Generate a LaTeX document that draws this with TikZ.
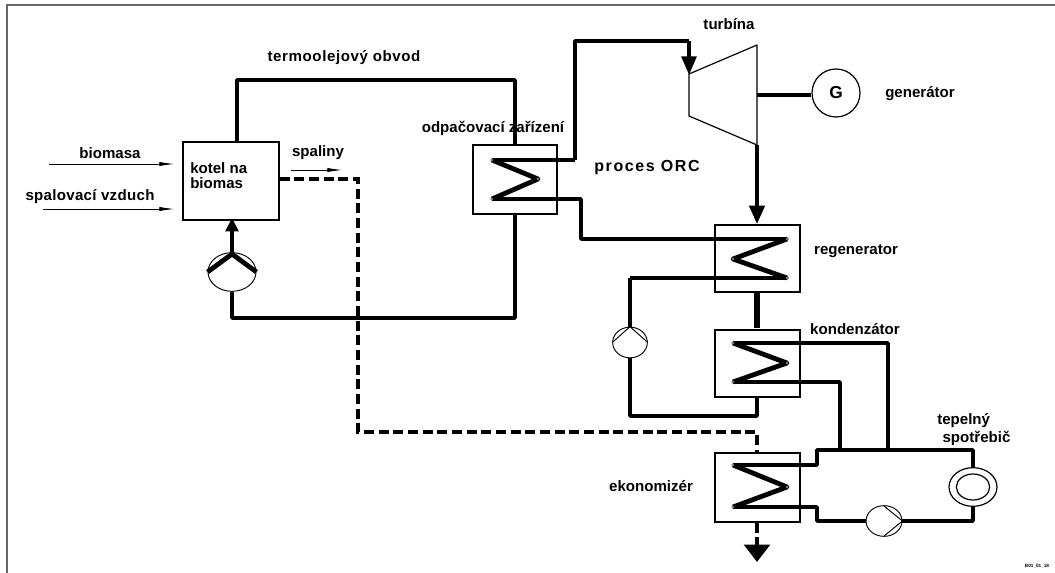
\documentclass[tikz,border=0pt]{standalone}
\usepackage{fontspec}
\setmainfont{Liberation Sans}
\usetikzlibrary{arrows.meta,shapes.geometric}

\tikzset{
  box/.style={draw,line width=0.9pt,fill=none,inner sep=0pt},
  pipe/.style={line width=2.8pt,line join=round},
  coil/.style={line width=3.6pt,line join=round},
  fluegas/.style={line width=3pt,dash pattern=on 7.5pt off 3.5pt},
  feed/.style={line width=0.6pt,-{Latex[length=11pt,width=3.2pt]}},
  thin part/.style={line width=0.7pt},
  lbl/.style={font=\bfseries\fontsize{11.3}{12.5}\selectfont,inner sep=0pt,align=left},
}

\begin{document}
\begin{tikzpicture}[x=0.75pt,y=-0.75pt]
        \useasboundingbox (0,0) rectangle (1055,573);
        \fill[white] (0,0) rectangle (1055,573);
        \draw[gray!80!black,line width=0.9pt] (7,573)--(7,5)--(1055,5);
        % boxes
        \node[box,minimum width=72pt,minimum height=58.5pt] (kotel) at (231,181) {};
        \node[box,minimum width=63pt,minimum height=51.75pt] (odpar) at (515,179.5) {};
        \node[box,minimum width=63.75pt,minimum height=50.25pt] (regen) at (757.5,258.5) {};
        \node[box,minimum width=63.75pt,minimum height=50.25pt] (konden) at (757.5,363.5) {};
        \node[box,minimum width=63.75pt,minimum height=51.75pt] (ekon) at (757.5,487.5) {};
        % pump at boiler
        \node[draw,thin part,ellipse,minimum width=36pt,minimum height=29pt,inner sep=0pt] (cerp1) at (232,272) {};
        \coordinate (c1top) at (232,254);
        \coordinate (c1end) at (232,218);
        \draw[coil] (cerp1.west)--(c1top)--(cerp1.east);
        \draw[coil,-{Triangle[length=10pt,width=9.5pt]}] (c1top)--(c1end);
        % thermal oil loop
        \coordinate (ol1) at (237,80);
        \coordinate (ol2) at (515,80);
        \coordinate (ol3) at (232,318);
        \coordinate (ol4) at (515,318);
        \draw[pipe] (kotel.north -| ol1)--(ol1)--(ol2)--(odpar.north -| ol2);
        \draw[pipe] (cerp1.south)--(ol3)--(ol4)--(odpar.south -| ol4);
        % evaporator coil and ORC
        \coordinate (o1) at (492,160);
        \coordinate (o2) at (538,179);
        \coordinate (o3) at (492,199);
        \coordinate (t1) at (575,160);
        \coordinate (t2) at (575,41);
        \coordinate (t3) at (689,41);
        \coordinate (t4) at (689,75);
        \draw[pipe] (t1)--(o1);
        \draw[coil] (o1)--(o2)--(o3);
        \draw[pipe] (o3)--(581,199)--(581,239)--(787,239);
        \draw[pipe] (t1)--(t2)--(t3);
        \draw[pipe,-{Triangle[length=14pt,width=11pt]}] (t3)--(t4);
        % turbine and generator
        \coordinate (tu1) at (689,74);
        \coordinate (tu2) at (757,45);
        \coordinate (tu3) at (757,145);
        \coordinate (tu4) at (689,116);
        \draw[line width=0.9pt,line join=round] (tu1)--(tu2)--(tu3)--(tu4)--cycle;
        \node[draw,line width=0.9pt,circle,minimum size=36pt,inner sep=0pt,font=\bfseries\fontsize{13}{14}\selectfont] (gen) at (836,93) {G};
        \coordinate (hridel) at (757,95);
        \draw[pipe] (hridel)--(hridel -| gen.west);
        \draw[coil,-{Triangle[length=14pt,width=11pt]}] (tu3)--(regen.north -| tu3);
        % regenerator
        \coordinate (r1) at (787,239);
        \coordinate (r2) at (733,259);
        \coordinate (r3) at (787,278);
        \coordinate (r4) at (630,278);
        \draw[coil] (r1)--(r2)--(r3);
        \draw[pipe] (r3)--(r4);
        \node[draw,thin part,ellipse,minimum width=26pt,minimum height=23pt,inner sep=0pt] (cerp2) at (630,342.5) {};
        \draw[thin part] (cerp2.west)--(cerp2.north)--(cerp2.east);
        \draw[pipe] (r4)--(cerp2.north);
        \coordinate (k5) at (630,416);
        \coordinate (k6) at (757,416);
        \draw[pipe] (cerp2.south)--(k5)--(k6)--(konden.south -| k6);
        \coordinate (k0) at (757,328);
        \draw[line width=4pt] (regen.south -| k0)--(k0);
        % condenser
        \coordinate (k1) at (733,343);
        \coordinate (k2) at (787,363);
        \coordinate (k3) at (733,382);
        \coordinate (k7) at (888,343);
        \coordinate (k8) at (840,382);
        \coordinate (s1) at (888,450);
        \coordinate (s2) at (840,450);
        \draw[pipe] (s1)--(k7)--(k1);
        \draw[coil] (k1)--(k2)--(k3);
        \draw[pipe] (k3)--(k8)--(s2);
        % economizer and consumer
        \coordinate (e1) at (733,465);
        \coordinate (e2) at (787,487);
        \coordinate (e3) at (733,507);
        \node[draw,line width=0.9pt,ellipse,minimum width=36pt,minimum height=29pt,inner sep=0pt] (spotr) at (973,487) {};
        \node[draw,line width=0.9pt,ellipse,minimum width=25pt,minimum height=19.5pt,inner sep=0pt] at (spotr) {};
        \node[draw,thin part,ellipse,minimum width=27pt,minimum height=23pt,inner sep=0pt] (cerp3) at (884,521) {};
        \draw[thin part] (884,506)--(cerp3.east)--(884,536);
        \draw[coil] (e1)--(e2)--(e3);
        \draw[pipe] (e3)--(817,507)--(817,521)--(cerp3.west);
        \draw[pipe] (e1)--(817,465)--(817,450)--(973,450)--(spotr.north);
        \draw[pipe] (spotr.south)--(973,521)--(cerp3.east);
        % coil ends
        \foreach \c in {o1,o2,o3,r1,r2,r3,k1,k2,k3,e1,e2,e3}
          \draw[fill=white,line width=0.3pt] (\c) circle (1.1pt);
        % flue gas
        \coordinate (sp1) at (358,179);
        \coordinate (sp2) at (358,432);
        \coordinate (sp3) at (757,432);
        \draw[fluegas] (kotel.east |- sp1)--(sp1)--(sp2)--(sp3)--(ekon.north -| sp3);
        \coordinate (vyst) at (757,562);
        \draw[line width=3.6pt,dash pattern=on 8pt off 3pt] (ekon.south -| vyst)--(757,546);
        \draw[line width=3.6pt,-{Triangle[length=13pt,width=19pt]}] (757,541)--(vyst);
        % feeds
        \coordinate (bio) at (49,164);
        \coordinate (vzd) at (43,209);
        \coordinate (spl1) at (291,170);
        \coordinate (spl2) at (342,170);
        \draw[feed] (bio)--(174,164);
        \draw[feed] (vzd)--(174,209);
        \draw[feed] (spl1)--(spl2);
        % labels
        \node[lbl] (l1) at (110,153) {biomasa};
        \node[lbl,font=\bfseries\fontsize{11.3}{12.5}\selectfont\addfontfeature{LetterSpace=2}] (l2) at (90,197) {spalovací vzduch};
        \node[lbl,anchor=west] (l3) at (190,175.5) {kotel na\\[-1.5pt]biomas};
        \node[lbl] (l4) at (318,153) {spaliny};
        \node[lbl,font=\bfseries\fontsize{11.3}{12.5}\selectfont\addfontfeature{LetterSpace=4}] (l5) at (344,58) {termoolejový obvod};
        \node[lbl] (l6) at (493,128) {odpačovací zařízení};
        \node[lbl] (l7) at (729,24) {turbína};
        \node[lbl] (l8) at (920,94) {generátor};
        \node[lbl,font=\bfseries\fontsize{12}{14}\selectfont\addfontfeature{LetterSpace=10}] (l9) at (647,168) {proces ORC};
        \node[lbl] (l10) at (856,251) {regenerator};
        \node[lbl] (l11) at (855,329) {kondenzátor};
        \node[lbl,anchor=north west] (l12) at (937,413) {tepelný\\[1pt]\hspace{4pt}spotřebič};
        \node[lbl] (l13) at (651,486) {ekonomizér};
        \node[font=\bfseries\fontsize{3.5}{4}\selectfont,inner sep=0pt] (l14) at (1037,566) {B01\_01\_18};
\end{tikzpicture}
\end{document}
